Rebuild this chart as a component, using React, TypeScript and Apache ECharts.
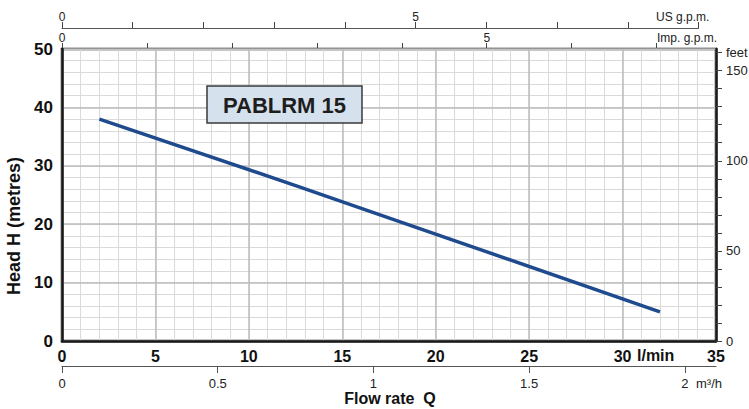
import React, { useEffect, useRef } from "react";
import * as echarts from "echarts";

// Pump curve (flow in l/min, head in metres)
const flowLmin = [2, 12.7, 18.1, 32];
const headM = [38, 26.4, 20.4, 5];

// Axis ranges / ticks
const lminMax = 35;
const lminMajor = 5;
const lminMinor = 1;
const headMax = 50;
const headMajor = 10;
const headMinor = 2;
const feetMax = 162;
const m3hTicks = [0, 0.5, 1, 1.5, 2];
const usGpmTicks = [0, 1, 2, 3, 4, 5, 6, 7, 8, 9];
const usGpmLabels = [0, 5];
const impGpmTicks = [0, 1, 2, 3, 4, 5, 6, 7];
const impGpmLabels = [0, 5];
const feetLabels = [0, 50, 100, 150];
const feetUnitAt = 160;

const L_PER_US_GAL = 3.78541;
const L_PER_IMP_GAL = 4.54609;

const FONT = "'Liberation Sans', Arial, Helvetica, sans-serif";

export default function App() {
  const ref = useRef<HTMLDivElement>(null);

  useEffect(() => {
    document.body.style.margin = "0";
    const chart = echarts.init(ref.current!, undefined, { renderer: "svg" });

    const gridLeft = 62;
    const gridTop = 49;
    const gridW = 654;
    const gridH = 292;
    const usMax = usGpmTicks[usGpmTicks.length - 1];
    const usWidth = (gridW * usMax) / (lminMax / L_PER_US_GAL);

    const minorAxisCommon = {
      type: "value",
      gridIndex: 0,
      min: 0,
      z: 0,
      axisLine: { show: false, onZero: false },
      axisTick: { show: false },
      axisLabel: { show: false },
      splitLine: { show: true, lineStyle: { color: "#dadada", width: 1 } },
    };

    const option: any = {
      animation: false,
      textStyle: { fontFamily: FONT },
      grid: [
        {
          left: gridLeft,
          top: gridTop,
          width: gridW,
          height: gridH,
          show: true,
          borderColor: "#1a1a1a",
          borderWidth: 2.5,
          backgroundColor: "#ffffff",
          containLabel: false,
          outerBoundsMode: "none",
        },
        {
          left: gridLeft,
          top: 28,
          width: usWidth,
          height: 10,
          show: false,
          containLabel: false,
          outerBoundsMode: "none",
        },
      ],
      xAxis: [
        {
          type: "value",
          gridIndex: 0,
          position: "bottom",
          min: 0,
          max: lminMax,
          interval: lminMajor,
          z: 2,
          axisLine: { show: true, onZero: false, lineStyle: { color: "#1a1a1a", width: 2.5 } },
          axisTick: { show: false },
          axisLabel: {
            margin: 7,
            color: "#111",
            fontSize: 16,
            fontWeight: "bold",
            fontFamily: FONT,
          },
          splitLine: { show: true, lineStyle: { color: "#bdbdbd", width: 1.5 } },
        },
        {
          type: "value",
          gridIndex: 0,
          position: "bottom",
          offset: 25,
          min: 0,
          max: (lminMax * 60) / 1000,
          axisLine: { show: true, onZero: false, lineStyle: { color: "#555", width: 1 } },
          axisTick: { show: true, length: 7, customValues: m3hTicks, lineStyle: { color: "#555" } },
          axisLabel: {
            customValues: m3hTicks,
            margin: 11,
            color: "#222",
            fontSize: 13,
            fontFamily: FONT,
          },
          splitLine: { show: false },
        },
        {
          type: "value",
          gridIndex: 0,
          position: "top",
          min: 0,
          max: lminMax / L_PER_IMP_GAL,
          axisLine: { show: false, onZero: false },
          axisTick: { show: true, length: 6, customValues: impGpmTicks, lineStyle: { color: "#444" } },
          axisLabel: {
            customValues: impGpmLabels,
            margin: 5,
            color: "#222",
            fontSize: 12,
            fontFamily: FONT,
          },
          splitLine: { show: false },
        },
        {
          type: "value",
          gridIndex: 1,
          position: "top",
          min: 0,
          max: usMax,
          interval: 1,
          axisLine: { show: true, onZero: false, lineStyle: { color: "#555", width: 1 } },
          axisTick: { show: true, length: 6, lineStyle: { color: "#444" } },
          axisLabel: {
            margin: 5,
            color: "#222",
            fontSize: 12,
            fontFamily: FONT,
            formatter: (v: number) => (usGpmLabels.indexOf(v) >= 0 ? String(v) : ""),
          },
          splitLine: { show: false },
        },
        { ...minorAxisCommon, position: "bottom", max: lminMax, interval: lminMinor },
      ],
      yAxis: [
        {
          type: "value",
          gridIndex: 0,
          position: "left",
          min: 0,
          max: headMax,
          interval: headMajor,
          z: 2,
          axisLine: { show: true, onZero: false, lineStyle: { color: "#1a1a1a", width: 2.5 } },
          axisTick: { show: false },
          axisLabel: {
            margin: 9,
            color: "#111",
            fontSize: 17,
            fontWeight: "bold",
            fontFamily: FONT,
          },
          splitLine: { show: true, lineStyle: { color: "#bdbdbd", width: 1.5 } },
        },
        {
          type: "value",
          gridIndex: 0,
          position: "right",
          min: 0,
          max: feetMax,
          interval: 10,
          z: 2,
          axisLine: { show: true, onZero: false, lineStyle: { color: "#1a1a1a", width: 2.5 } },
          axisTick: { show: true, length: 6, lineStyle: { color: "#444" } },
          axisLabel: {
            margin: 10,
            color: "#222",
            fontSize: 13,
            fontFamily: FONT,
            showMaxLabel: false,
            formatter: (v: number) =>
              v === feetUnitAt ? "feet" : feetLabels.indexOf(v) >= 0 ? String(v) : "",
          },
          splitLine: { show: false },
        },
        {
          type: "value",
          gridIndex: 1,
          show: false,
          min: 0,
          max: 1,
        },
        { ...minorAxisCommon, position: "left", max: headMax, interval: headMinor },
      ],
      series: [
        {
          type: "line",
          xAxisIndex: 0,
          yAxisIndex: 0,
          data: flowLmin.map((f, i) => [f, headM[i]]),
          showSymbol: false,
          symbol: "none",
          lineStyle: { color: "#1f4b8e", width: 3.5 },
          z: 5,
        },
      ],
      graphic: [
        {
          type: "rect",
          z: 20,
          shape: { x: 207, y: 86, width: 155, height: 37 },
          style: { fill: "#d5e1ec", stroke: "#3a3a3a", lineWidth: 1.5 },
        },
        {
          type: "text",
          z: 21,
          x: 284.5,
          y: 105,
          style: {
            text: "PABLRM 15",
            fill: "#1e1e1e",
            stroke: "none",
            lineWidth: 0,
            font: `bold 22px ${FONT}`,
            align: "center",
            verticalAlign: "middle",
          },
        },
        {
          type: "text",
          z: 20,
          x: 656,
          y: 17,
          style: {
            text: "US g.p.m.",
            fill: "#222",
            font: `12px ${FONT}`,
            align: "left",
            verticalAlign: "middle",
          },
        },
        {
          type: "text",
          z: 20,
          x: 657,
          y: 37.5,
          style: {
            text: "Imp. g.p.m.",
            fill: "#222",
            font: `12px ${FONT}`,
            align: "left",
            verticalAlign: "middle",
          },
        },
        {
          type: "text",
          z: 20,
          x: 637,
          y: 355.5,
          style: {
            text: "l/min",
            fill: "#111",
            font: `bold 16px ${FONT}`,
            align: "left",
            verticalAlign: "middle",
          },
        },
        {
          type: "text",
          z: 20,
          x: 696,
          y: 383.5,
          style: {
            text: "m³/h",
            fill: "#222",
            font: `13px ${FONT}`,
            align: "left",
            verticalAlign: "middle",
          },
        },
        {
          type: "text",
          z: 20,
          x: 390,
          y: 398,
          style: {
            text: "Flow rate  Q",
            fill: "#111",
            font: `bold 16px ${FONT}`,
            align: "center",
            verticalAlign: "middle",
          },
        },
        {
          type: "text",
          z: 20,
          x: 14,
          y: 226,
          rotation: Math.PI / 2,
          style: {
            text: "Head H (metres)",
            fill: "#111",
            font: `bold 18px ${FONT}`,
            align: "center",
            verticalAlign: "middle",
          },
        },
      ],
    };

    chart.setOption(option);
    return () => {
      chart.dispose();
    };
  }, []);

  return <div ref={ref} style={{ width: 749, height: 409 }} />;
}
